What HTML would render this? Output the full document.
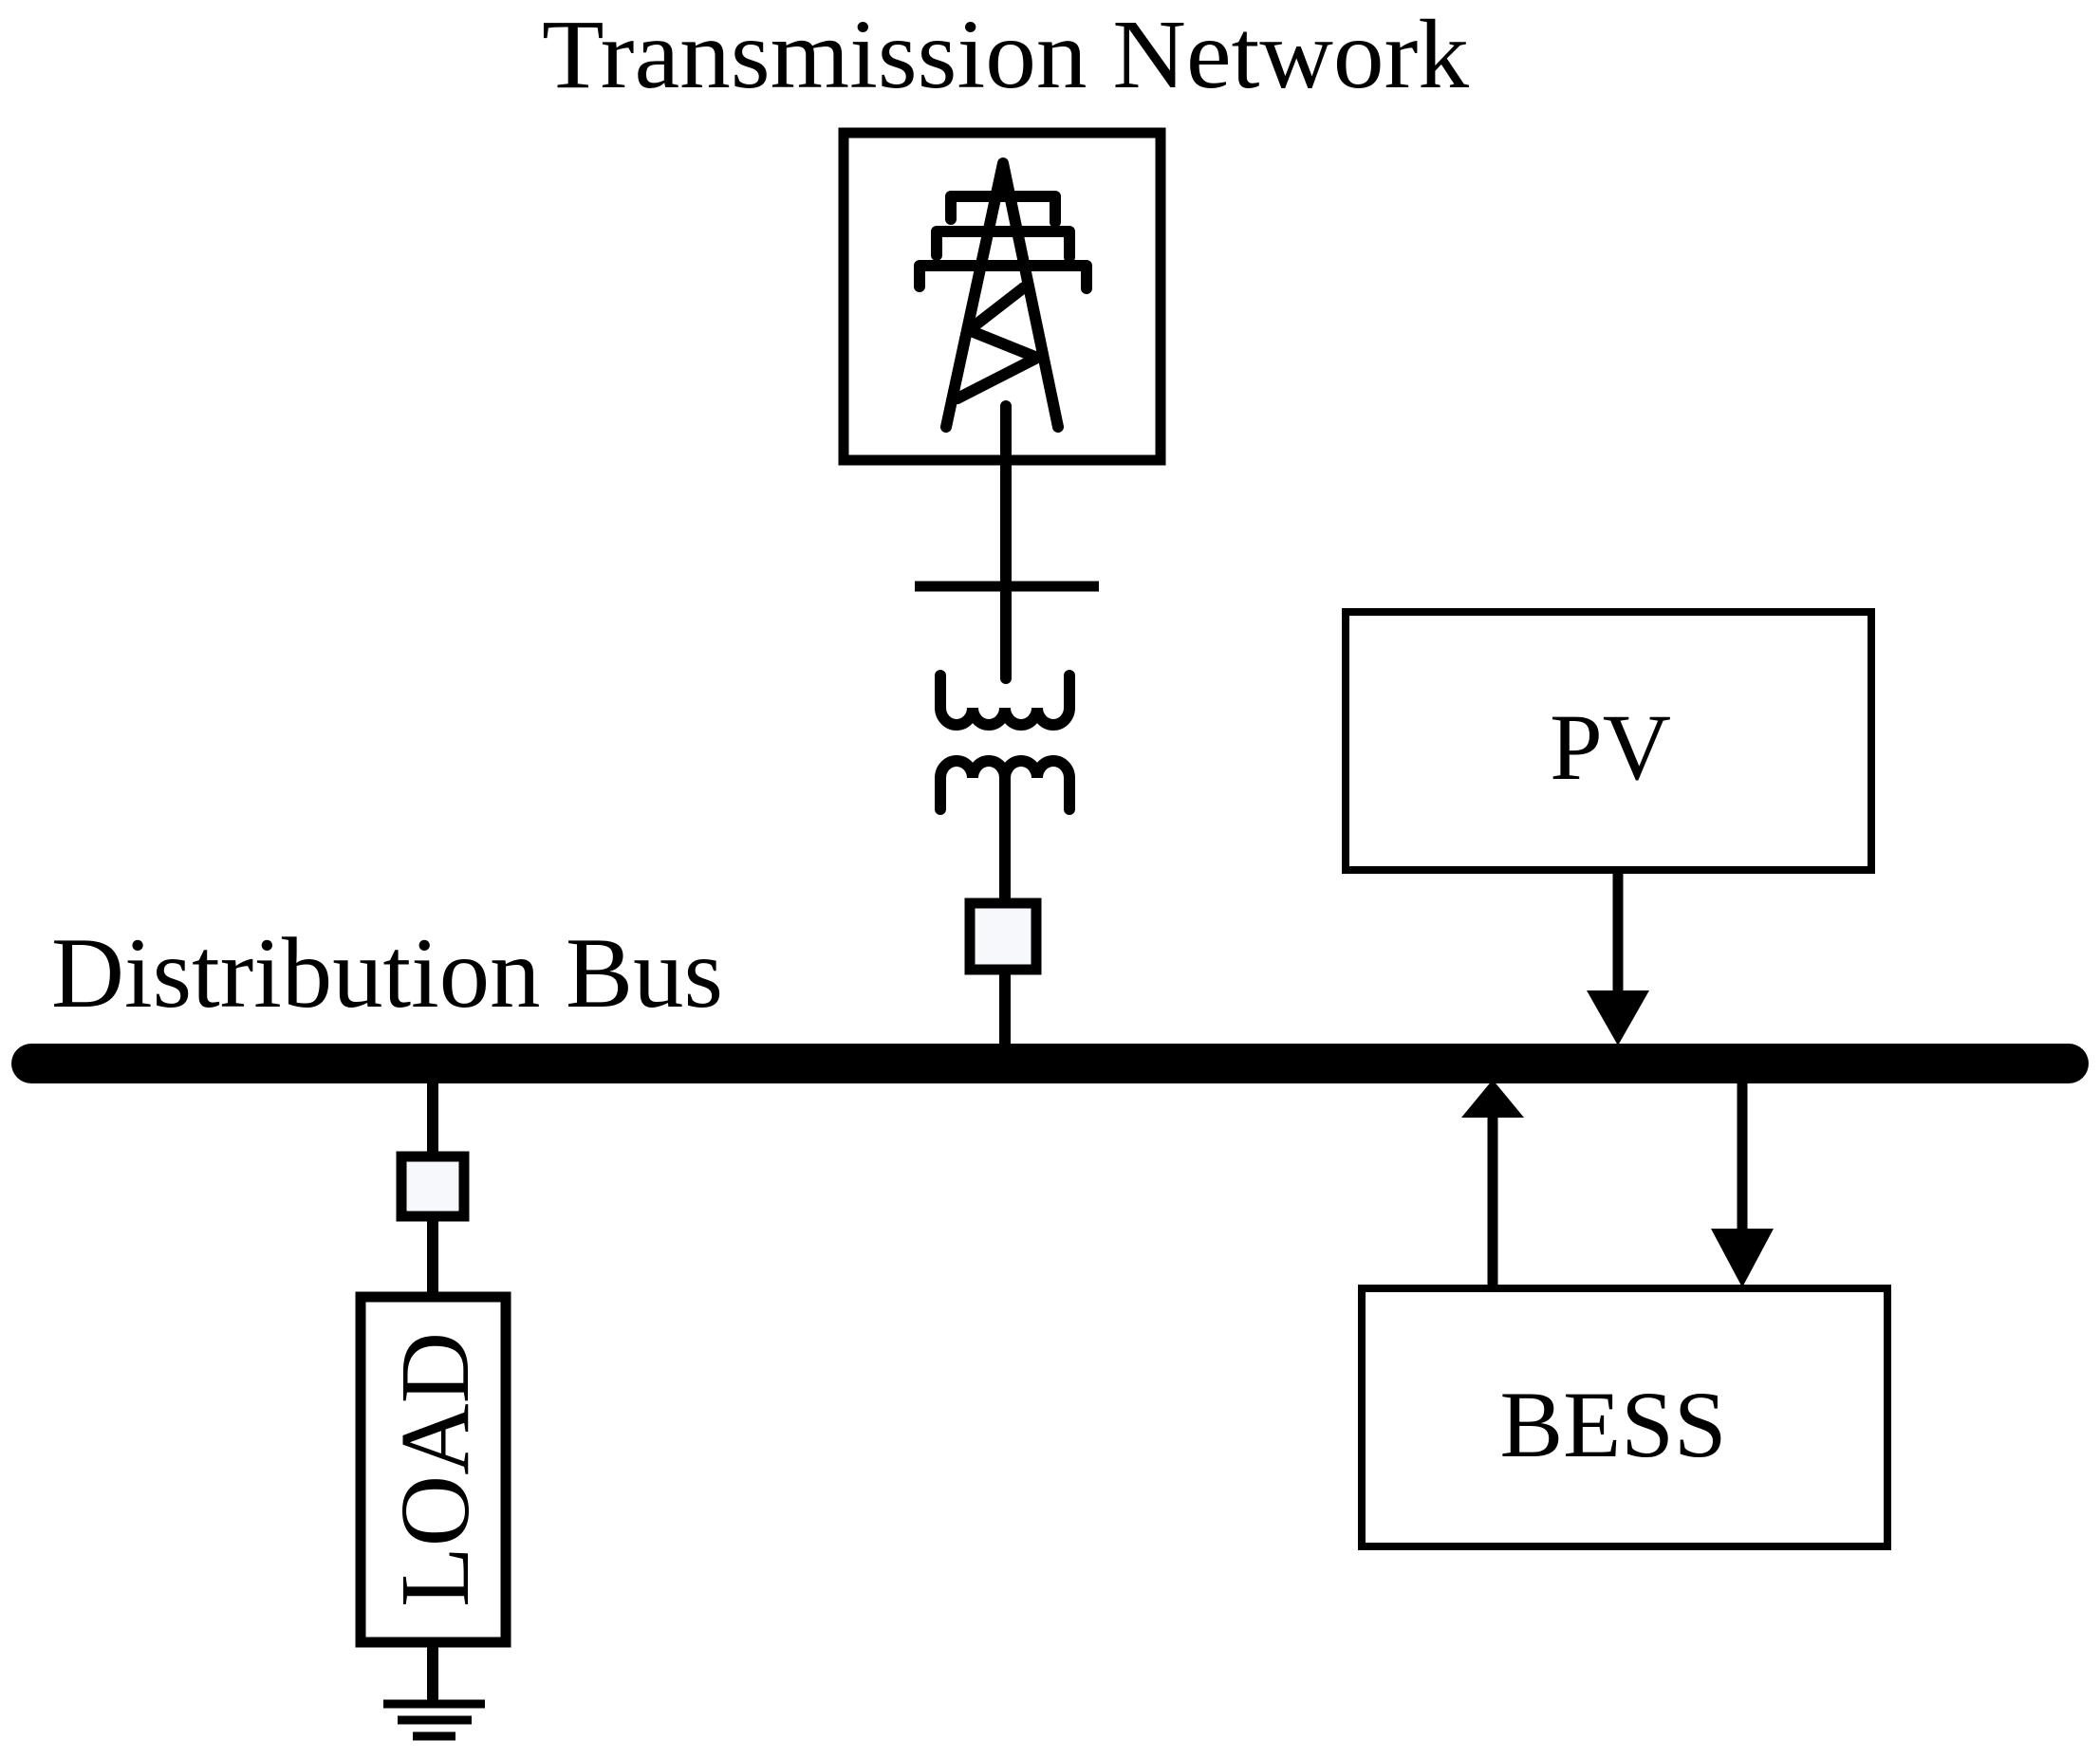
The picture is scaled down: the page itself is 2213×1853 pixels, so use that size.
<!DOCTYPE html>
<html><head><meta charset="utf-8"><style>html,body{margin:0;padding:0;background:#fff}svg{display:block}</style></head>
<body>
<svg width="2213" height="1853" viewBox="0 0 2213 1853" xmlns="http://www.w3.org/2000/svg" font-family="'Liberation Serif', serif">
<rect width="2213" height="1853" fill="#fff"/>
<text x="571" y="92" font-size="104" textLength="977" lengthAdjust="spacingAndGlyphs">Transmission Network</text>
<text x="54" y="1061" font-size="106" textLength="708" lengthAdjust="spacingAndGlyphs">Distribution Bus</text>
<!-- tower box -->
<rect x="889" y="140" width="334" height="345" fill="none" stroke="#000" stroke-width="11"/>
<g stroke="#000" stroke-width="12" stroke-linecap="round" stroke-linejoin="round" fill="none">
<polyline points="997,450 1057,172 1115,450"/>
<polyline points="1002,231 1002,207 1112,207 1112,234"/>
<polyline points="987,269 987,244 1127,244 1127,271"/>
<polyline points="969,302 969,280 1145,280 1145,304"/>
<polyline points="1079,303 1021,348 1093,377 1009,420"/>
</g>
<line x1="1060" y1="428" x2="1060" y2="715" stroke="#000" stroke-width="12" stroke-linecap="round"/>
<line x1="964" y1="618" x2="1158" y2="618" stroke="#000" stroke-width="11"/>
<!-- transformer -->
<g stroke="#000" stroke-width="12" stroke-linecap="round" fill="none">
<path d="M991,712 L991,746 A17,18 0 0 0 1025,746 A17,18 0 0 0 1059,746 A17,18 0 0 0 1093,746 A17,18 0 0 0 1127,746 L1127,712"/>
<path d="M991,853 L991,820 A17,18 0 0 1 1025,820 A17,18 0 0 1 1059,820 A17,18 0 0 1 1093,820 A17,18 0 0 1 1127,820 L1127,853"/>
</g>
<line x1="1059" y1="818" x2="1059" y2="1105" stroke="#000" stroke-width="12"/>
<rect x="1022" y="952" width="70" height="70" fill="#f6f8fc" stroke="#000" stroke-width="11"/>
<!-- bus -->
<line x1="33" y1="1121" x2="2180" y2="1121" stroke="#000" stroke-width="42" stroke-linecap="round"/>
<!-- load -->
<line x1="456" y1="1121" x2="456" y2="1796" stroke="#000" stroke-width="12"/>
<rect x="423" y="1219" width="66" height="63" fill="#f6f8fc" stroke="#000" stroke-width="11"/>
<rect x="380" y="1367" width="153" height="364" fill="#fff" stroke="#000" stroke-width="11"/>
<text transform="translate(493,1549) rotate(-90)" x="0" y="0" font-size="104" text-anchor="middle" textLength="290" lengthAdjust="spacingAndGlyphs">LOAD</text>
<line x1="404" y1="1796" x2="511" y2="1796" stroke="#000" stroke-width="9"/>
<line x1="419" y1="1813" x2="497" y2="1813" stroke="#000" stroke-width="9"/>
<line x1="435" y1="1830" x2="480" y2="1830" stroke="#000" stroke-width="9"/>
<!-- PV -->
<rect x="1418" y="645" width="554" height="272" fill="none" stroke="#000" stroke-width="8"/>
<text x="1697" y="821" font-size="100" text-anchor="middle">PV</text>
<line x1="1705" y1="917" x2="1705" y2="1050" stroke="#000" stroke-width="11"/>
<polygon points="1672,1044 1738,1044 1705,1102" fill="#000"/>
<!-- BESS -->
<rect x="1435" y="1358" width="554" height="272" fill="none" stroke="#000" stroke-width="8"/>
<text x="1700" y="1535" font-size="100" text-anchor="middle">BESS</text>
<line x1="1573" y1="1358" x2="1573" y2="1170" stroke="#000" stroke-width="11"/>
<polygon points="1540,1178 1606,1178 1573,1138" fill="#000"/>
<line x1="1836" y1="1140" x2="1836" y2="1300" stroke="#000" stroke-width="11"/>
<polygon points="1803,1295 1869,1295 1836,1357" fill="#000"/>
</svg>
</body></html>
